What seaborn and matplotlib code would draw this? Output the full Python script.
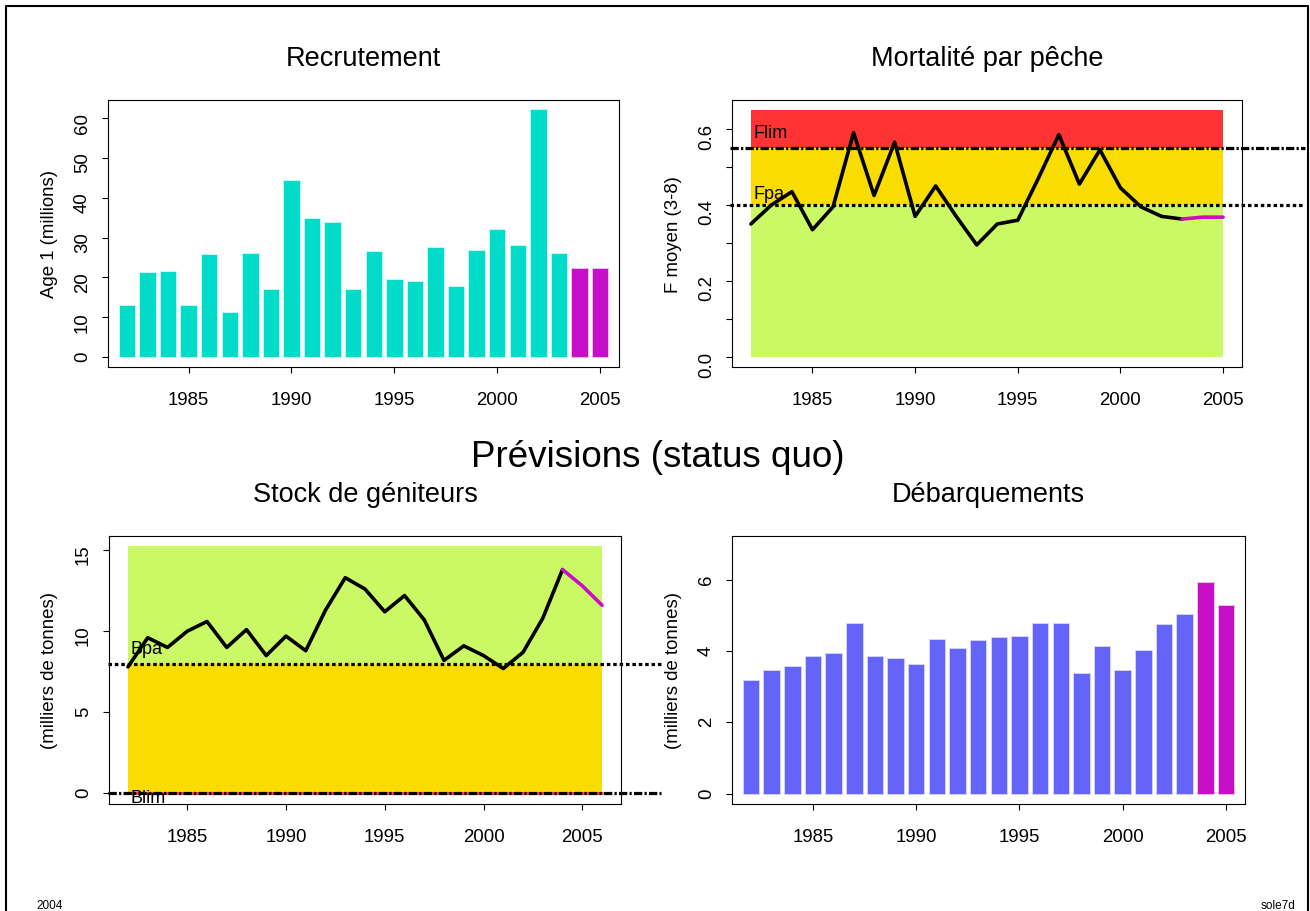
import seaborn as sns
import matplotlib.pyplot as plt
from matplotlib.lines import Line2D

sns.set_style('ticks')
plt.rcParams['font.family'] = ['Liberation Sans', 'DejaVu Sans']
plt.rcParams['text.color'] = 'black'
plt.rcParams['axes.labelcolor'] = 'black'
plt.rcParams['xtick.color'] = 'black'
plt.rcParams['ytick.color'] = 'black'

# ---- data ----
rec_years = list(range(1982, 2004))
rec_values = [13.0, 21.5, 21.7, 13.1, 26.0, 11.2, 26.2, 17.0, 44.5, 35.0, 34.0,
              17.0, 26.7, 19.6, 19.2, 27.7, 17.9, 26.9, 32.3, 28.1, 62.3, 26.2]
rec_fc_years = [2004, 2005]
rec_fc_values = [22.4, 22.4]

f_years = list(range(1982, 2004))
f_values = [0.350, 0.400, 0.435, 0.335, 0.395, 0.590, 0.425, 0.565, 0.370, 0.450, 0.370,
            0.295, 0.350, 0.360, 0.470, 0.585, 0.455, 0.545, 0.445, 0.395, 0.370, 0.363]
f_fc_years = [2003, 2004, 2005]
f_fc_values = [0.363, 0.368, 0.368]
flim, fpa = 0.55, 0.40

ssb_years = list(range(1982, 2005))
ssb_values = [7.8, 9.6, 9.0, 10.0, 10.6, 9.0, 10.1, 8.5, 9.7, 8.8, 11.3, 13.3,
              12.6, 11.2, 12.2, 10.7, 8.2, 9.1, 8.5, 7.7, 8.7, 10.8, 13.8]
ssb_fc_years = [2004, 2005, 2006]
ssb_fc_values = [13.8, 12.8, 11.6]
bpa, blim = 8.0, 0.0

land_years = list(range(1982, 2004))
land_values = [3.20, 3.47, 3.58, 3.85, 3.95, 4.80, 3.87, 3.80, 3.65, 4.35, 4.08,
               4.30, 4.40, 4.43, 4.80, 4.78, 3.38, 4.15, 3.48, 4.03, 4.75, 5.05]
land_fc_years = [2004, 2005]
land_fc_values = [5.93, 5.30]

turquoise = '#00DCC8'
magenta = '#C80FC8'
blue = '#6464FA'
red = '#FF3333'
gold = '#F9DC00'
green = '#CBF966'

W, H = 1310, 912
fig = plt.figure(figsize=(W / 100, H / 100), dpi=100)


def panel(l, t, r, b):
    ax = fig.add_axes([l / W, 1 - b / H, (r - l) / W, (b - t) / H])
    for s in ax.spines.values():
        s.set_visible(True)
        s.set_linewidth(0.8)
        s.set_color('black')
    ax.tick_params(direction='out', length=4.3, width=0.8, labelsize=13.4, colors='black')
    ax.tick_params(axis='x', pad=13)
    ax.tick_params(axis='y', pad=8, labelrotation=90)
    ax.yaxis.set_label_coords(-59 / (r - l), 0.5)
    return ax


def ylab(ax, text):
    ax.set_ylabel(text, fontsize=13.4, va='center', color='black')


def xyears(ax, lo, hi):
    ax.set_xlim(lo, hi)
    ax.set_xticks([1985, 1990, 1995, 2000, 2005])
    ax.set_xlabel('')


def title(ax, text):
    ax.set_title(text, fontsize=19.5, pad=25, color='black')


ax_rec = panel(108, 101, 619, 368)
ax_f = panel(732, 101, 1242, 368)
ax_ssb = panel(109, 537, 621, 805)
ax_land = panel(732, 537, 1245, 805)

# ---- Recrutement ----
sns.barplot(x=rec_years, y=rec_values, native_scale=True, color=turquoise, saturation=1,
            width=0.8, edgecolor='#c8fff6', linewidth=0.6, ax=ax_rec)
sns.barplot(x=rec_fc_years, y=rec_fc_values, native_scale=True, color=magenta, saturation=1,
            width=0.8, edgecolor='#f0c8f0', linewidth=0.6, ax=ax_rec)
xyears(ax_rec, 1981.08, 2005.92)
ax_rec.set_ylim(-2.5, 64.6)
ax_rec.set_yticks([0, 10, 20, 30, 40, 50, 60])
ylab(ax_rec, 'Age 1 (millions)')
title(ax_rec, 'Recrutement')

# ---- Mortalité par pêche ----
ax_f.fill_between([1982, 2005], 0, fpa, color=green, lw=0)
ax_f.fill_between([1982, 2005], fpa, flim, color=gold, lw=0)
ax_f.fill_between([1982, 2005], flim, 0.65, color=red, lw=0)
sns.lineplot(x=f_years, y=f_values, color='black', linewidth=2.6, ax=ax_f)
sns.lineplot(x=f_fc_years, y=f_fc_values, color=magenta, linewidth=2.6, ax=ax_f)
ax_f.plot([1981, 2009], [flim, flim], color='black', lw=2.3, dashes=(2.6, 0.7, 0.7, 0.7),
          clip_on=False)
ax_f.plot([1981, 2009], [fpa, fpa], color='black', lw=2.3, dashes=(1.1, 0.9), clip_on=False)
ax_f.text(1982.15, 0.579, 'Flim', fontsize=13, va='baseline', ha='left')
ax_f.text(1982.15, 0.419, 'Fpa', fontsize=13, va='baseline', ha='left')
xyears(ax_f, 1981.08, 2005.92)
ax_f.set_ylim(-0.026, 0.676)
ax_f.set_yticks([0, 0.1, 0.2, 0.3, 0.4, 0.5, 0.6])
ax_f.set_yticklabels(['0.0', '', '0.2', '', '0.4', '', '0.6'])
ylab(ax_f, 'F moyen (3-8)')
title(ax_f, 'Mortalité par pêche')

# ---- Stock de géniteurs ----
ax_ssb.fill_between([1982, 2006], bpa, 15.27, color=green, lw=0)
ax_ssb.fill_between([1982, 2006], blim, bpa, color=gold, lw=0)
ax_ssb.plot([1982, 2006], [blim, blim], color=red, lw=2)
sns.lineplot(x=ssb_years, y=ssb_values, color='black', linewidth=2.6, ax=ax_ssb)
sns.lineplot(x=ssb_fc_years, y=ssb_fc_values, color=magenta, linewidth=2.6, ax=ax_ssb)
ax_ssb.plot([1981, 2009], [bpa, bpa], color='black', lw=2.3, dashes=(1.1, 0.9), clip_on=False)
ax_ssb.plot([1981, 2009], [blim, blim], color='black', lw=2.3, dashes=(2.6, 0.7, 0.7, 0.7),
            clip_on=False)
ax_ssb.text(1982.15, 8.67, 'Bpa', fontsize=13, va='baseline', ha='left')
ax_ssb.text(1982.15, -0.55, 'Blim', fontsize=13, va='baseline', ha='left')
xyears(ax_ssb, 1981.04, 2006.96)
ax_ssb.set_ylim(-0.65, 15.87)
ax_ssb.set_yticks([0, 5, 10, 15])
ylab(ax_ssb, '(milliers de tonnes)')
title(ax_ssb, 'Stock de géniteurs')

# ---- Débarquements ----
sns.barplot(x=land_years, y=land_values, native_scale=True, color=blue, saturation=1,
            width=0.8, edgecolor='#d8d8ff', linewidth=0.6, ax=ax_land)
sns.barplot(x=land_fc_years, y=land_fc_values, native_scale=True, color=magenta, saturation=1,
            width=0.8, edgecolor='#f0c8f0', linewidth=0.6, ax=ax_land)
xyears(ax_land, 1981.08, 2005.92)
ax_land.set_ylim(-0.29, 7.23)
ax_land.set_yticks([0, 2, 4, 6])
ylab(ax_land, '(milliers de tonnes)')
title(ax_land, 'Débarquements')

# ---- page texts and frame ----
fig.text(658 / W, 1 - 467 / H, 'Prévisions (status quo)', ha='center', va='baseline',
         fontsize=26.5)
fig.text(36 / W, 1 - 909 / H, '2004', fontsize=8.5, va='baseline')
fig.text(1295 / W, 1 - 909 / H, 'sole7d', fontsize=8.5, va='baseline', ha='right')
fig.add_artist(Line2D([6 / W, 6 / W, 1308 / W, 1308 / W], [0, 1 - 6.5 / H, 1 - 6.5 / H, 0],
                      transform=fig.transFigure, color='black', lw=1.5))

fig.savefig('out.png', dpi=100)
